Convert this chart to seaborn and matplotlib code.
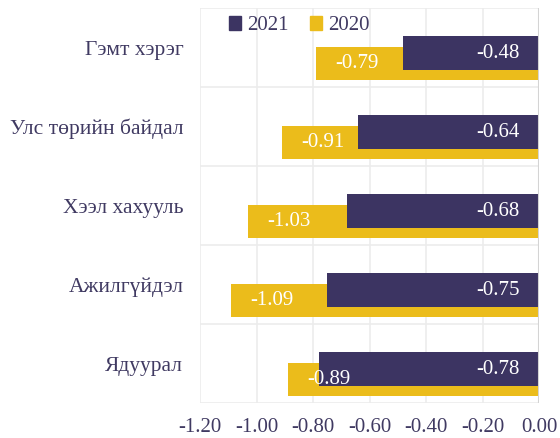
import numpy as np
import pandas as pd
import seaborn as sns
import matplotlib.pyplot as plt
from matplotlib.patches import Patch

# data
categories = ['Гэмт хэрэг', 'Улс төрийн байдал', 'Хээл хахууль', 'Ажилгүйдэл', 'Ядуурал']
values_2021 = [-0.48, -0.64, -0.68, -0.75, -0.78]
values_2020 = [-0.79, -0.91, -1.03, -1.09, -0.89]
xticks = [-1.2, -1.0, -0.8, -0.6, -0.4, -0.2, 0.0]

purple = '#3c3462'
yellow = '#ebbc1b'
text_col = '#403a62'

sns.set_theme(style='white')
plt.rcParams['font.family'] = ['Liberation Serif', 'DejaVu Serif']

fig = plt.figure(figsize=(5.6, 4.38), dpi=100)
ax = fig.add_axes([200 / 560, 1 - 403 / 438, 339 / 560, 395 / 438])

bar_h = 0.42

# 2020 first so 2021 sits on top where they overlap
sns.barplot(x=values_2020, y=categories, orient='h', color=yellow, saturation=1,
            width=bar_h, errorbar=None, linewidth=0, ax=ax, zorder=3)
n = len(categories)
for p in ax.patches[:n]:
    p.set_y(p.get_y() + 0.20)
sns.barplot(x=values_2021, y=categories, orient='h', color=purple, saturation=1,
            width=bar_h, errorbar=None, linewidth=0, ax=ax, zorder=4)
for p in ax.patches[n:]:
    p.set_y(p.get_y() + 0.07)

# value labels
pad = 0.068
for i, (a, b) in enumerate(zip(values_2021, values_2020)):
    ax.text(-pad, i + 0.07, f'{a:.2f}', ha='right', va='center', color='white',
            fontsize=15, zorder=6)
    ax.text(b + pad, i + 0.20, f'{b:.2f}', ha='left', va='center', color='white',
            fontsize=15, zorder=6)

ax.set_xlim(-1.2, 0)
ax.set_ylim(n - 0.5, -0.5)
ax.set_xticks(xticks)
ax.set_xticklabels([f'{t:.2f}' for t in xticks])

# grid
for t in xticks:
    ax.axvline(t, color='#ececec', lw=1.2, zorder=1)
for k in range(n + 1):
    ax.axhline(k - 0.5, color='#ececec', lw=1.2, zorder=1)
ax.axvline(0, color='#d4d4d4', lw=1.5, zorder=5)

for s in ax.spines.values():
    s.set_visible(False)

ax.tick_params(axis='x', length=0, pad=11, labelsize=15, labelcolor=text_col)
ax.tick_params(axis='y', length=0, pad=12, labelsize=15.5, labelcolor=text_col)
ax.set_xlabel('')
ax.set_ylabel('')

# legend
handles = [Patch(color=purple, label='2021'), Patch(color=yellow, label='2020')]
leg = ax.legend(handles=handles, loc='upper left', bbox_to_anchor=(0.06, 1.0), ncol=2,
                frameon=False, handlelength=0.6, handleheight=0.6, handletextpad=0.3,
                columnspacing=1.0, fontsize=15, borderaxespad=0)
for t in leg.get_texts():
    t.set_color(text_col)

fig.savefig('out.png', dpi=100)
